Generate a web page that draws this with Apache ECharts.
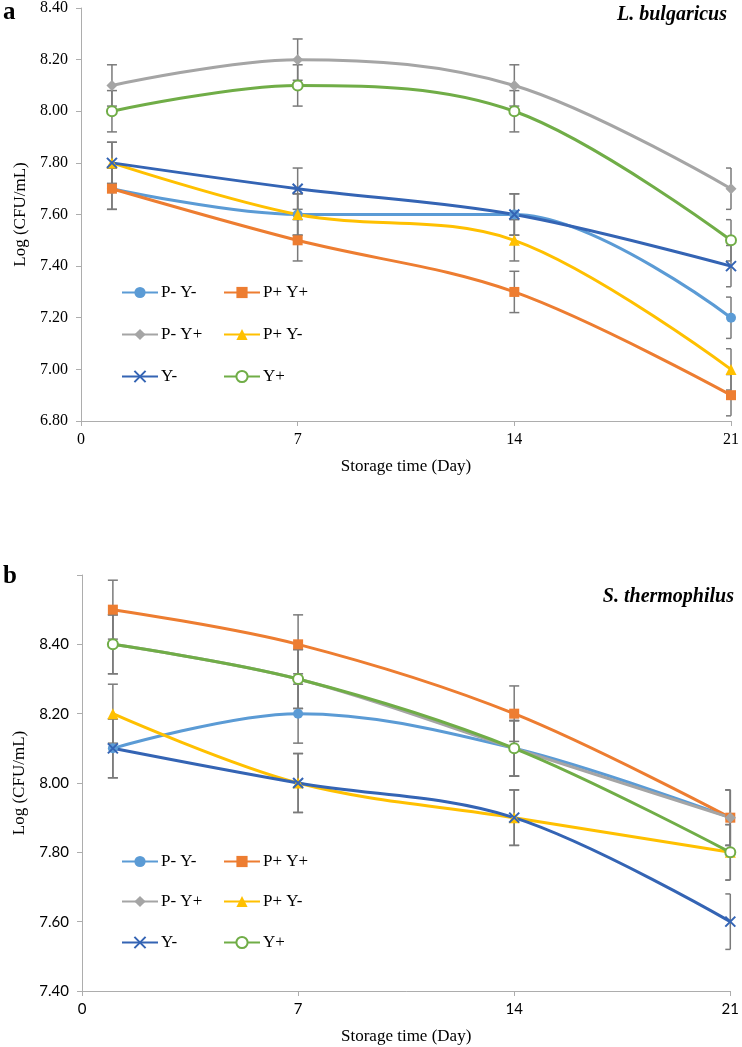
<!DOCTYPE html>
<html>
<head>
<meta charset="utf-8">
<script src="https://cdn.jsdelivr.net/npm/echarts@6/dist/echarts.min.js"></script>
<style>
html,body{margin:0;padding:0;background:#fff;}
#chart{width:742px;height:1047px;}
</style>
</head>
<body>
<div id="chart"></div>
<script>
// ---- data ----
const days = [1, 7, 14, 21];
const seriesNames = ['P- Y-', 'P+ Y+', 'P- Y+', 'P+ Y-', 'Y-', 'Y+'];
// Panel a: L. bulgaricus
const aPmYm = [7.70, 7.60, 7.60, 7.20];
const aPpYp = [7.70, 7.50, 7.30, 6.90];
const aPmYp = [8.10, 8.20, 8.10, 7.70];
const aPpYm = [7.80, 7.60, 7.50, 7.00];
const aYm   = [7.80, 7.70, 7.60, 7.40];
const aYp   = [8.00, 8.10, 8.00, 7.50];
const aErr  = [0.08, 0.08, 0.08, 0.08];
// Panel b: S. thermophilus
const bPmYm = [8.10, 8.20, 8.10, 7.90];
const bPpYp = [8.50, 8.40, 8.20, 7.90];
const bPmYp = [8.40, 8.30, 8.10, 7.90];
const bPpYm = [8.20, 8.00, 7.90, 7.80];
const bYm   = [8.10, 8.00, 7.90, 7.60];
const bYp   = [8.40, 8.30, 8.10, 7.80];
const bErr  = [0.085, 0.085, 0.08, 0.08];
const xTicks = [0, 7, 14, 21];

// ---- styles ----
const colors = ['#5B9BD5', '#ED7D31', '#A5A5A5', '#FFC000', '#3464B4', '#70AD47'];
const symbols = ['circle', 'rect', 'diamond', 'triangle', 'path://M0,0L10,10M10,0L0,10', 'emptyCircle'];
const symSizes = [10, 10, 11, 11, 10, 10];
const serif = 'Liberation Serif';
const sans = 'Lato';

const chart = echarts.init(document.getElementById('chart'));

function lineSeries(idx, values, grid) {
  const c = colors[idx];
  const isX = idx === 4;
  const isEmpty = idx === 5;
  return {
    type: 'line',
    name: seriesNames[idx],
    xAxisIndex: grid, yAxisIndex: grid,
    data: days.map((d, i) => [d, values[i]]),
    smooth: 0.35,
    symbol: symbols[idx],
    symbolSize: symSizes[idx],
    showSymbol: true,
    lineStyle: { color: c, width: 3 },
    itemStyle: isX ? { color: c, borderColor: c, borderWidth: 2 }
             : isEmpty ? { color: c, borderColor: c, borderWidth: 1.6 }
             : { color: c, borderWidth: 0 },
    emphasis: { disabled: true },
    z: 3
  };
}

function errSeries(grid, arrays, err) {
  const data = [];
  arrays.forEach(vals => vals.forEach((v, i) => data.push([days[i], v, err[i]])));
  return {
    type: 'custom',
    xAxisIndex: grid, yAxisIndex: grid,
    silent: true,
    z: 2,
    data: data,
    renderItem: function (params, api) {
      const cs = params.coordSys;
      const xmin = cs.x, xmax = cs.x + cs.width;
      const x = api.value(0), y = api.value(1), e = api.value(2);
      const t = api.coord([x, y + e]);
      const b = api.coord([x, y - e]);
      const w = 5;
      const l = Math.max(xmin, t[0] - w), r = Math.min(xmax, t[0] + w);
      const st = { stroke: '#7A7A7A', lineWidth: 1.5 };
      return {
        type: 'group',
        children: [
          { type: 'line', shape: { x1: t[0], y1: t[1], x2: b[0], y2: b[1] }, style: st },
          { type: 'line', shape: { x1: l, y1: t[1], x2: r, y2: t[1] }, style: st },
          { type: 'line', shape: { x1: l, y1: b[1], x2: r, y2: b[1] }, style: st }
        ]
      };
    }
  };
}

function xAxis(grid, font, size) {
  return {
    type: 'value', gridIndex: grid, min: 0, max: 21, interval: 7,
    splitLine: { show: false },
    axisLine: { lineStyle: { color: '#ADADAD', width: 1 } },
    axisTick: { show: true, length: 5, lineStyle: { color: '#ADADAD' } },
    axisLabel: { color: '#000', fontFamily: font, fontSize: size, margin: 11 },
    name: 'Storage time (Day)', nameLocation: 'middle', nameGap: 37,
    nameTextStyle: { color: '#000', fontFamily: serif, fontSize: 17 }
  };
}
function yAxis(grid, min, max, font, size, hideTop) {
  return {
    type: 'value', gridIndex: grid, min: min, max: max, interval: 0.2,
    splitLine: { show: false },
    axisLine: { show: true, lineStyle: { color: '#ADADAD', width: 1 } },
    axisTick: { show: true, length: 5, lineStyle: { color: '#ADADAD' } },
    axisLabel: {
      color: '#000', fontFamily: font, fontSize: size, margin: 13,
      formatter: function (v) { if (hideTop && Math.abs(v - max) < 1e-6) return ''; return v.toFixed(2); }
    },
    name: 'Log (CFU/mL)', nameLocation: 'middle', nameGap: 52,
    nameTextStyle: { color: '#000', fontFamily: serif, fontSize: 17 }
  };
}

function legendItem(name, left, top) {
  return {
    data: [name], left: left, top: top, orient: 'horizontal',
    itemWidth: 36, itemHeight: 14, padding: 0, selectedMode: false,
    textStyle: { color: '#000', fontFamily: serif, fontSize: 17, padding: [2, 0, 0, -2] }
  };
}
const legendCols = [121, 223];
const legendRowsA = [292, 334, 376];
const legendRowsB = [861, 901, 942];
const legends = [];
seriesNames.forEach((n, i) => {
  const col = legendCols[i % 2];
  const r = Math.floor(i / 2);
  legends.push(legendItem(n, col, legendRowsA[r] - 8));
  legends.push(legendItem(n, col, legendRowsB[r] - 8));
});

const aVals = [aPmYm, aPpYp, aPmYp, aPpYm, aYm, aYp];
const bVals = [bPmYm, bPpYp, bPmYp, bPpYm, bYm, bYp];

const option = {
  backgroundColor: '#fff',
  animation: false,
  grid: [
    { left: 81, top: 3, width: 652, height: 418 },
    { left: 82, top: 575, width: 651, height: 416 }
  ],
  xAxis: [xAxis(0, serif, 16), xAxis(1, sans, 15)],
  yAxis: [yAxis(0, 6.8, 8.4, serif, 16, false), yAxis(1, 7.4, 8.6, sans, 15, true)],
  legend: legends,
  graphic: [
    { type: 'text', left: 3, top: 0, style: { text: 'a', font: 'bold 25px "Liberation Serif"', fill: '#000' } },
    { type: 'text', left: 3, top: 564, style: { text: 'b', font: 'bold 25px "Liberation Serif"', fill: '#000' } },
    { type: 'text', right: 15, top: 5, style: { text: 'L. bulgaricus', font: 'italic bold 20px "Liberation Serif"', fill: '#000' } },
    { type: 'text', right: 8, top: 587, style: { text: 'S. thermophilus', font: 'italic bold 20px "Liberation Serif"', fill: '#000' } }
  ],
  series: [
    errSeries(0, aVals, aErr),
    errSeries(1, bVals, bErr)
  ].concat(aVals.map((v, i) => lineSeries(i, v, 0)))
   .concat(bVals.map((v, i) => lineSeries(i, v, 1)))
};
chart.setOption(option);
</script>
</body>
</html>
